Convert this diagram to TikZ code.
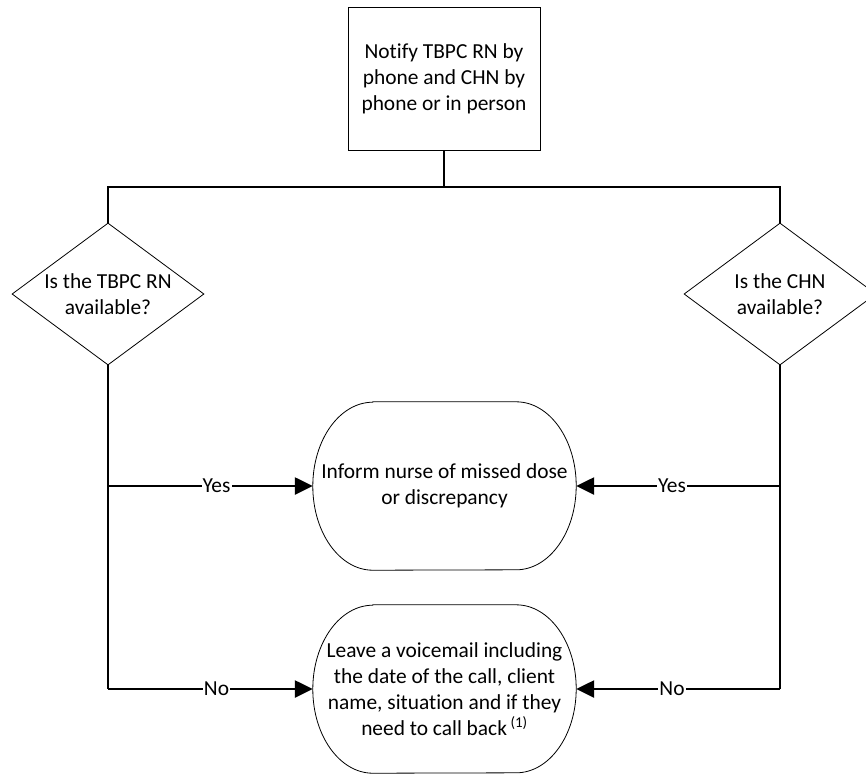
\documentclass[tikz,border=0pt]{standalone}
\usepackage{fontspec}
\setmainfont[Ligatures=NoCommon]{Carlito}
\usetikzlibrary{shapes.geometric}
\usetikzlibrary{arrows.meta}
\tikzset{
  conn/.style={line width=2.5pt, draw},
  arr/.style={-{Triangle[length=18pt,width=17pt]}},
  lbl/.style={fill=white, inner sep=1pt},
  procbox/.style={rectangle, draw, line width=0.8pt, minimum width=192pt, minimum height=143pt, align=center},
  decision/.style={diamond, draw, line width=0.8pt, minimum width=192pt, minimum height=142pt, inner sep=0pt},
  oval/.style={rectangle, minimum width=263pt, minimum height=168pt, align=center}
}
% outline with elliptical ends round an oval node
\newcommand{\ovalline}[1]{%
  \draw[line width=0.8pt] ([xshift=60pt]#1.north west) -- ([xshift=-60pt]#1.north east)
    arc[start angle=90, end angle=-90, x radius=60pt, y radius=84pt]
    -- ([xshift=60pt]#1.south west)
    arc[start angle=270, end angle=90, x radius=60pt, y radius=84pt] -- cycle;}

\begin{document}
\begin{tikzpicture}[x=1pt, y=-1pt, every node/.style={font=\fontsize{21.4}{26}\selectfont}]
    \useasboundingbox (0,0) rectangle (866,774);
    \clip (0,0) rectangle (866,774);

    \node[procbox] at (444,78.5) (notify) {Notify TBPC RN by\\phone and CHN by\\phone or in person};
    \node[decision, label={[align=center]center:Is the TBPC RN\\available?}] at (108,294) (tbpc) {};
    \node[decision, label={[align=center]center:Is the CHN\\available?}] at (780,294) (chn) {};
    \node[oval] at (444.5,486) (inform) {Inform nurse of missed dose\\or discrepancy};
    \node[oval] at (444.5,689) (voice) {Leave a voicemail including\\the date of the call, client\\name, situation and if they\\need to call back\,\textsuperscript{(1)}};
    \ovalline{inform}
    \ovalline{voice}

    \coordinate (split) at (444,187);
    \draw[conn] (notify.south) -- (split);
    \draw[conn] (split) -| (tbpc.north);
    \draw[conn] (split) -| (chn.north);

    \draw[conn] (tbpc.south) -- (tbpc.south |- voice.west);
    \draw[conn] (chn.south) -- (chn.south |- voice.west);

    \draw[conn, arr] (tbpc.south |- inform.west) -- node[lbl, pos=0.53] {Yes} (inform.west);
    \draw[conn, arr] (tbpc.south |- voice.west) -- node[lbl, pos=0.53] {No} (voice.west);
    \draw[conn, arr] (chn.south |- inform.west) -- node[lbl, pos=0.53] {Yes} (inform.east);
    \draw[conn, arr] (chn.south |- voice.west) -- node[lbl, pos=0.53] {No} (voice.east);
\end{tikzpicture}
\end{document}
